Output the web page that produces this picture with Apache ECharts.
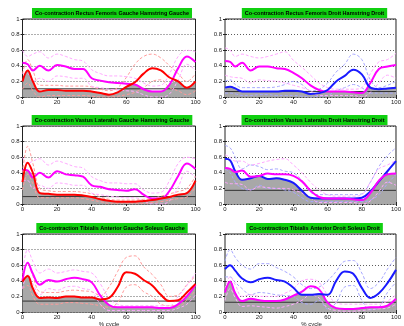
<!DOCTYPE html>
<html>
<head>
<meta charset="utf-8">
<script src="https://cdn.jsdelivr.net/npm/echarts@6/dist/echarts.min.js"></script>
<style>
  html, body { margin: 0; padding: 0; background: #fff; }
  #chart { width: 404px; height: 326px; }
</style>
</head>
<body>
<div id="chart"></div>
<script>
// Gait cycle positions (% cycle) shared by every curve
const X = [0, 3, 6, 10, 15, 20, 25, 30, 35, 40, 45, 50, 55, 60, 65, 70, 75, 80, 85, 90, 95, 100];
const xTicks = [0, 20, 40, 60, 80, 100];
const yTicks = [0, 0.2, 0.4, 0.6, 0.8, 1];

// Rectus Femoris Gauche / Hamstring Gauche
const rfgMuscle   = [0.20, 0.34, 0.20, 0.07, 0.09, 0.09, 0.08, 0.08, 0.08, 0.07, 0.05, 0.03, 0.06, 0.13, 0.19, 0.30, 0.37, 0.34, 0.25, 0.20, 0.12, 0.20];
const rfgMuscleHi = [0.30, 0.48, 0.34, 0.15, 0.15, 0.15, 0.14, 0.14, 0.14, 0.13, 0.10, 0.08, 0.12, 0.25, 0.42, 0.52, 0.55, 0.50, 0.40, 0.30, 0.20, 0.30];
const rfgMuscleLo = [0.10, 0.18, 0.08, 0.00, 0.02, 0.02, 0.02, 0.02, 0.02, 0.01, 0.00, 0.00, 0.01, 0.03, 0.06, 0.12, 0.20, 0.22, 0.12, 0.08, 0.03, 0.08];
const rfgHam      = [0.44, 0.42, 0.34, 0.40, 0.34, 0.41, 0.39, 0.36, 0.36, 0.24, 0.21, 0.19, 0.18, 0.17, 0.16, 0.10, 0.07, 0.07, 0.16, 0.37, 0.52, 0.45];
const rfgHamHi    = [0.60, 0.52, 0.55, 0.58, 0.50, 0.55, 0.52, 0.48, 0.46, 0.35, 0.30, 0.27, 0.27, 0.26, 0.24, 0.18, 0.14, 0.15, 0.30, 0.52, 0.60, 0.58];
const rfgHamLo    = [0.30, 0.30, 0.20, 0.24, 0.20, 0.27, 0.26, 0.24, 0.24, 0.14, 0.12, 0.10, 0.09, 0.08, 0.07, 0.03, 0.00, 0.00, 0.04, 0.22, 0.42, 0.34];
const rfgThreshold = 0.105;

// Rectus Femoris Droit / Hamstring Droit
const rfdMuscle   = [0.12, 0.13, 0.11, 0.07, 0.07, 0.07, 0.07, 0.07, 0.08, 0.08, 0.07, 0.04, 0.05, 0.09, 0.20, 0.27, 0.35, 0.29, 0.12, 0.10, 0.11, 0.12];
const rfdMuscleHi = [0.20, 0.22, 0.16, 0.12, 0.12, 0.12, 0.12, 0.13, 0.16, 0.20, 0.16, 0.08, 0.10, 0.18, 0.32, 0.42, 0.55, 0.48, 0.22, 0.12, 0.15, 0.20];
const rfdMuscleLo = [0.05, 0.05, 0.04, 0.02, 0.02, 0.03, 0.03, 0.02, 0.02, 0.02, 0.01, 0.00, 0.01, 0.02, 0.08, 0.12, 0.16, 0.12, 0.05, 0.05, 0.05, 0.05];
const rfdHam      = [0.46, 0.45, 0.39, 0.44, 0.34, 0.39, 0.39, 0.37, 0.36, 0.31, 0.24, 0.15, 0.09, 0.07, 0.07, 0.07, 0.06, 0.05, 0.18, 0.36, 0.39, 0.41];
const rfdHamHi    = [0.63, 0.60, 0.52, 0.55, 0.52, 0.50, 0.52, 0.55, 0.58, 0.47, 0.38, 0.28, 0.18, 0.12, 0.10, 0.10, 0.10, 0.12, 0.30, 0.45, 0.48, 0.56];
const rfdHamLo    = [0.28, 0.26, 0.25, 0.24, 0.18, 0.22, 0.21, 0.20, 0.18, 0.15, 0.12, 0.08, 0.02, 0.02, 0.02, 0.02, 0.02, 0.00, 0.06, 0.18, 0.28, 0.24];
const rfdThreshold = 0.07;

// Vastus Lateralis Gauche / Hamstring Gauche
const vlgMuscle   = [0.28, 0.53, 0.40, 0.14, 0.13, 0.12, 0.12, 0.12, 0.11, 0.09, 0.06, 0.04, 0.03, 0.03, 0.03, 0.04, 0.05, 0.07, 0.09, 0.12, 0.14, 0.30];
const vlgMuscleHi = [0.40, 0.74, 0.52, 0.20, 0.17, 0.16, 0.16, 0.16, 0.15, 0.13, 0.09, 0.06, 0.05, 0.05, 0.05, 0.06, 0.07, 0.10, 0.13, 0.16, 0.20, 0.36];
const vlgMuscleLo = [0.18, 0.38, 0.26, 0.08, 0.08, 0.08, 0.08, 0.08, 0.07, 0.05, 0.03, 0.01, 0.01, 0.01, 0.01, 0.01, 0.02, 0.03, 0.05, 0.07, 0.09, 0.22];
const vlgHam      = [0.44, 0.43, 0.34, 0.40, 0.34, 0.42, 0.38, 0.37, 0.35, 0.24, 0.22, 0.19, 0.18, 0.17, 0.19, 0.12, 0.07, 0.07, 0.17, 0.36, 0.52, 0.45];
const vlgHamHi    = [0.60, 0.52, 0.55, 0.58, 0.50, 0.55, 0.52, 0.48, 0.46, 0.35, 0.30, 0.27, 0.27, 0.26, 0.26, 0.18, 0.14, 0.15, 0.30, 0.52, 0.60, 0.58];
const vlgHamLo    = [0.30, 0.30, 0.20, 0.24, 0.20, 0.27, 0.26, 0.24, 0.24, 0.14, 0.12, 0.10, 0.09, 0.08, 0.08, 0.04, 0.00, 0.00, 0.04, 0.22, 0.42, 0.34];
const vlgThreshold = 0.095;

// Vastus Lateralis Droit / Hamstring Droit
const vldMuscle   = [0.58, 0.56, 0.42, 0.31, 0.33, 0.36, 0.32, 0.33, 0.31, 0.27, 0.17, 0.08, 0.07, 0.07, 0.07, 0.07, 0.07, 0.08, 0.16, 0.29, 0.42, 0.55];
const vldMuscleHi = [0.75, 0.72, 0.60, 0.45, 0.50, 0.48, 0.44, 0.45, 0.42, 0.40, 0.30, 0.15, 0.12, 0.12, 0.12, 0.12, 0.12, 0.13, 0.28, 0.48, 0.62, 0.72];
const vldMuscleLo = [0.45, 0.40, 0.28, 0.20, 0.18, 0.24, 0.20, 0.20, 0.18, 0.15, 0.08, 0.03, 0.03, 0.03, 0.03, 0.03, 0.03, 0.03, 0.05, 0.12, 0.26, 0.38];
const vldHam      = [0.46, 0.45, 0.41, 0.43, 0.35, 0.36, 0.39, 0.38, 0.38, 0.36, 0.29, 0.17, 0.09, 0.07, 0.07, 0.07, 0.06, 0.05, 0.14, 0.30, 0.38, 0.39];
const vldHamHi    = [0.63, 0.60, 0.55, 0.55, 0.50, 0.52, 0.55, 0.57, 0.58, 0.50, 0.40, 0.28, 0.18, 0.12, 0.10, 0.10, 0.10, 0.12, 0.28, 0.45, 0.50, 0.56];
const vldHamLo    = [0.28, 0.26, 0.26, 0.25, 0.18, 0.22, 0.21, 0.20, 0.20, 0.18, 0.14, 0.08, 0.02, 0.02, 0.02, 0.02, 0.02, 0.00, 0.04, 0.16, 0.28, 0.24];
const vldThreshold = 0.175;

// Tibialis Anterior Gauche / Soleus Gauche
const tagMuscle   = [0.39, 0.46, 0.30, 0.18, 0.185, 0.18, 0.20, 0.20, 0.185, 0.185, 0.16, 0.18, 0.32, 0.51, 0.49, 0.41, 0.34, 0.22, 0.14, 0.15, 0.25, 0.36];
const tagMuscleHi = [0.48, 0.62, 0.46, 0.26, 0.25, 0.25, 0.27, 0.28, 0.27, 0.26, 0.21, 0.32, 0.52, 0.70, 0.72, 0.58, 0.48, 0.35, 0.20, 0.22, 0.35, 0.46];
const tagMuscleLo = [0.30, 0.34, 0.20, 0.10, 0.10, 0.10, 0.12, 0.12, 0.11, 0.10, 0.08, 0.06, 0.12, 0.32, 0.35, 0.26, 0.20, 0.10, 0.08, 0.08, 0.15, 0.28];
const tagSol      = [0.40, 0.63, 0.49, 0.35, 0.41, 0.39, 0.42, 0.44, 0.42, 0.38, 0.21, 0.09, 0.06, 0.06, 0.06, 0.06, 0.06, 0.05, 0.05, 0.10, 0.20, 0.35];
const tagSolHi    = [0.50, 0.80, 0.65, 0.50, 0.55, 0.50, 0.52, 0.54, 0.52, 0.50, 0.36, 0.18, 0.10, 0.08, 0.08, 0.08, 0.08, 0.08, 0.08, 0.20, 0.34, 0.50];
const tagSolLo    = [0.30, 0.48, 0.36, 0.22, 0.30, 0.28, 0.32, 0.33, 0.30, 0.27, 0.10, 0.02, 0.02, 0.02, 0.02, 0.02, 0.02, 0.02, 0.02, 0.05, 0.10, 0.22];
const tagThreshold = 0.14;

// Tibialis Anterior Droit / Soleus Droit
const tadMuscle   = [0.55, 0.60, 0.53, 0.43, 0.38, 0.42, 0.44, 0.41, 0.39, 0.31, 0.22, 0.22, 0.23, 0.22, 0.40, 0.52, 0.49, 0.31, 0.18, 0.24, 0.37, 0.54];
const tadMuscleHi = [0.65, 0.80, 0.70, 0.60, 0.55, 0.62, 0.62, 0.57, 0.52, 0.45, 0.35, 0.30, 0.32, 0.40, 0.52, 0.65, 0.66, 0.50, 0.30, 0.38, 0.55, 0.70];
const tadMuscleLo = [0.45, 0.45, 0.38, 0.30, 0.22, 0.25, 0.24, 0.22, 0.21, 0.20, 0.12, 0.10, 0.15, 0.04, 0.12, 0.32, 0.34, 0.15, 0.03, 0.06, 0.25, 0.38];
const tadSol      = [0.25, 0.39, 0.24, 0.14, 0.17, 0.15, 0.14, 0.14, 0.16, 0.21, 0.26, 0.33, 0.29, 0.12, 0.05, 0.04, 0.04, 0.05, 0.06, 0.06, 0.08, 0.17];
const tadSolHi    = [0.30, 0.45, 0.35, 0.20, 0.22, 0.20, 0.20, 0.20, 0.24, 0.30, 0.40, 0.42, 0.38, 0.22, 0.12, 0.10, 0.10, 0.10, 0.10, 0.10, 0.14, 0.22];
const tadSolLo    = [0.15, 0.30, 0.18, 0.07, 0.08, 0.07, 0.06, 0.05, 0.07, 0.10, 0.15, 0.22, 0.18, 0.05, 0.02, 0.01, 0.01, 0.02, 0.03, 0.04, 0.05, 0.10];
const tadThreshold = 0.125;

const RED = '#ff0000', MAG = '#ff00ff', BLUE = '#1a1aff';
const RED_SD = '#ff9a9a', MAG_SD = '#ffa8ff', BLUE_SD = '#a8a8ff';

const panels = [
  { title: 'Co-contraction Rectus Femoris Gauche Hamstring Gauche', left: 22.5, top: 19,
    a: [rfgMuscle, rfgMuscleHi, rfgMuscleLo, RED, RED_SD], b: [rfgHam, rfgHamHi, rfgHamLo, MAG, MAG_SD], thr: rfgThreshold, front: 'a' },
  { title: 'Co-contraction Rectus Femoris Droit Hamstring Droit', left: 225, top: 19,
    a: [rfdMuscle, rfdMuscleHi, rfdMuscleLo, BLUE, BLUE_SD], b: [rfdHam, rfdHamHi, rfdHamLo, MAG, MAG_SD], thr: rfdThreshold, front: 'a' },
  { title: 'Co-contraction Vastus Lateralis Gauche Hamstring Gauche', left: 22.5, top: 126,
    a: [vlgMuscle, vlgMuscleHi, vlgMuscleLo, RED, RED_SD], b: [vlgHam, vlgHamHi, vlgHamLo, MAG, MAG_SD], thr: vlgThreshold, front: 'a' },
  { title: 'Co-contraction Vastus Lateralis Droit Hamstring Droit', left: 225, top: 126,
    a: [vldMuscle, vldMuscleHi, vldMuscleLo, BLUE, BLUE_SD], b: [vldHam, vldHamHi, vldHamLo, MAG, MAG_SD], thr: vldThreshold, front: 'b' },
  { title: 'Co-contraction Tibialis Anterior Gauche Soleus Gauche', left: 22.5, top: 234,
    a: [tagMuscle, tagMuscleHi, tagMuscleLo, RED, RED_SD], b: [tagSol, tagSolHi, tagSolLo, MAG, MAG_SD], thr: tagThreshold, front: 'a' },
  { title: 'Co-contraction Tibialis Anterior Droit Soleus Droit', left: 225, top: 234,
    a: [tadMuscle, tadMuscleHi, tadMuscleLo, BLUE, BLUE_SD], b: [tadSol, tadSolHi, tadSolLo, MAG, MAG_SD], thr: tadThreshold, front: 'a' }
];

const W = 173, H = 78;
const FONT = 'Liberation Sans, Arial, sans-serif';
const pairs = arr => X.map((x, i) => [x, arr[i]]);

const grid = [], xAxis = [], yAxis = [], series = [], title = [], graphic = [];

panels.forEach((p, k) => {
  grid.push({ left: p.left, top: p.top, width: W, height: H, show: true,
    backgroundColor: '#fff', borderColor: '#222', borderWidth: 1 });

  // bottom / left axes carry labels, top / right mirror the inward ticks
  xAxis.push({ gridIndex: k, type: 'value', min: 0, max: 100, interval: 20,
    axisLine: { show: false }, splitLine: { show: false },
    axisTick: { show: true, inside: true, length: 2, lineStyle: { color: '#222' } },
    axisLabel: { fontSize: 6, color: '#222', margin: 2, fontFamily: FONT } });
  xAxis.push({ gridIndex: k, type: 'value', min: 0, max: 100, interval: 20, position: 'top',
    axisLine: { show: false }, splitLine: { show: false }, axisLabel: { show: false },
    axisTick: { show: true, inside: true, length: 2, lineStyle: { color: '#222' } } });
  yAxis.push({ gridIndex: k, type: 'value', min: 0, max: 1, interval: 0.2,
    axisLine: { show: false },
    splitLine: { show: true, lineStyle: { color: '#333', width: 0.8, type: [1, 2] } },
    axisTick: { show: true, inside: true, length: 2, lineStyle: { color: '#222' } },
    axisLabel: { fontSize: 6, color: '#222', margin: 3, fontFamily: FONT,
      formatter: v => (Math.round(v * 10) / 10).toString() } });
  yAxis.push({ gridIndex: k, type: 'value', min: 0, max: 1, interval: 0.2, position: 'right',
    axisLine: { show: false }, splitLine: { show: false }, axisLabel: { show: false },
    axisTick: { show: true, inside: true, length: 2, lineStyle: { color: '#222' } } });

  const xi = 2 * k, yi = 2 * k;
  const coActivation = X.map((x, i) => [x, Math.min(p.a[0][i], p.b[0][i])]);

  series.push({ type: 'line', xAxisIndex: xi, yAxisIndex: yi, data: coActivation, smooth: 0.4,
    symbol: 'none', silent: true, lineStyle: { width: 0.6, color: '#8c8c8c' },
    areaStyle: { color: '#a8a8a8', opacity: 1 }, z: 1 });
  series.push({ type: 'line', xAxisIndex: xi, yAxisIndex: yi, data: [[0, p.thr], [100, p.thr]],
    symbol: 'none', silent: true, lineStyle: { width: 1, color: '#333' }, z: 2 });

  [p.a, p.b].forEach(s => {
    [s[1], s[2]].forEach(sd => series.push({ type: 'line', xAxisIndex: xi, yAxisIndex: yi,
      data: pairs(sd), smooth: 0.4, symbol: 'none', silent: true,
      lineStyle: { width: 1, color: s[4], type: [3, 2] }, z: 3 }));
  });
  const order = p.front === 'a' ? [p.b, p.a] : [p.a, p.b];
  order.forEach((s, j) => series.push({ type: 'line', xAxisIndex: xi, yAxisIndex: yi,
    data: pairs(s[0]), smooth: 0.4, symbol: 'none', silent: true,
    lineStyle: { width: 2, color: s[3] }, z: 4 + j }));

  title.push({ text: p.title, left: p.left + W / 2, top: p.top - 11, textAlign: 'center',
    backgroundColor: '#10d010', padding: [2, 3, 2, 3],
    textStyle: { fontSize: 5.5, fontWeight: 'bold', color: '#000', fontFamily: FONT, lineHeight: 6 } });
});

// x-axis name under the bottom row
[22.5, 225].forEach(l => graphic.push({ type: 'text', x: l + W / 2, y: 321,
  style: { text: '% cycle', fontSize: 6, fill: '#222', fontFamily: FONT, align: 'center', verticalAlign: 'top' } }));

const chart = echarts.init(document.getElementById('chart'), null, { renderer: 'canvas' });
chart.setOption({ animation: false, backgroundColor: '#fff', title, grid, xAxis, yAxis, series, graphic });
</script>
</body>
</html>
